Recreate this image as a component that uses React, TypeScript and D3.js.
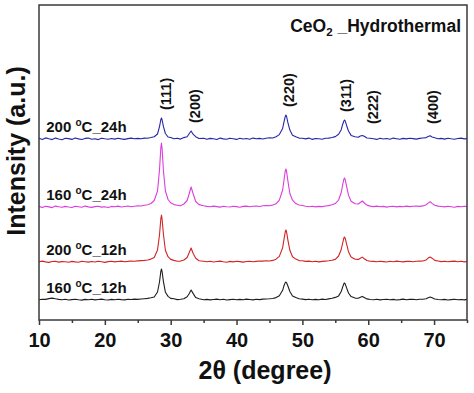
import { useEffect, useRef } from 'react'
import * as d3 from 'd3'

const W = 474
const H = 393
const MARGIN = { top: 5, right: 7, bottom: 73, left: 39 }
const FONT = "Arial, 'Liberation Sans', sans-serif"

// 2-theta sampling grid (degrees)
const twoTheta = [
  10, 10.5, 11, 11.5, 12, 12.5, 13, 13.5, 14, 14.5, 15, 15.5, 16, 16.5, 17, 17.5, 18, 18.5, 19, 19.5,
  20, 20.5, 21, 21.5, 22, 22.5, 23, 23.5, 24, 24.5, 25, 25.5, 26, 26.5, 27,
  27.5, 28, 28.3, 28.5, 28.6, 28.7, 28.9, 29.2, 29.6, 30, 30.5, 31, 31.5, 32, 32.5, 32.8, 33.1, 33.4, 33.8, 34.3, 35,
  35.5, 36, 36.5, 37, 37.5, 38, 38.5, 39, 39.5, 40, 40.5, 41, 41.5, 42, 42.5, 43, 43.5, 44, 44.5, 45, 45.5, 46,
  46.5, 47, 47.2, 47.4, 47.5, 47.6, 47.8, 48.1, 48.5, 49, 49.5,
  50, 50.5, 51, 51.5, 52, 52.5, 53, 53.5, 54, 54.5, 55,
  55.5, 55.9, 56.1, 56.3, 56.4, 56.5, 56.7, 57, 57.4, 58, 58.5, 58.8, 59.1, 59.4, 59.8, 60.3,
  60.8, 61.3, 61.8, 62.3, 62.8, 63.3, 63.8, 64.3, 64.8, 65.3, 65.8, 66.3, 66.8, 67.3, 67.8, 68.3,
  68.8, 69.1, 69.4, 69.7, 70.1, 70.6,
  71.1, 71.6, 72.1, 72.6, 73.1, 73.6, 74.1, 74.6, 75,
]

// intensities (a.u.), one per 2-theta point
const i160_12h = [
  10.2, 10.8, 10.6, 11.4, 11.9, 11.2, 10.6, 10.2, 10.7, 10.0, 10.4, 10.8, 10.3, 9.9, 10.6, 10.2, 10.7, 10.1, 10.5, 10.9,
  10.3, 10.0, 10.6, 10.2, 10.8, 10.4, 10.1, 10.7, 10.5, 10.9, 10.6, 11.0, 11.3, 11.6, 12.2,
  13, 18, 28, 38.5, 41, 38.2, 28.3, 17.7, 13.6, 11.6, 11.2, 10.4, 10.8, 11.3, 13.3, 16.2, 20, 16.6, 12.4, 11.2, 10.3,
  10.6, 10.1, 10.5, 10.9, 10.3, 10.7, 10.0, 10.4, 10.8, 10.2, 10.6, 10.3, 10.9, 10.5, 10.1, 10.7, 10.4, 10.9, 11.0, 11.2, 11.5, 12.4,
  14.3, 19.7, 24.2, 27.4, 28, 27.2, 24.0, 18.5, 14.0, 12.4, 11.2,
  10.9, 10.4, 10.8, 10.2, 10.6, 10.3, 10.9, 10.5, 11.1, 11.7, 12.6,
  14.1, 18.5, 22.6, 26.3, 27, 26.1, 22.4, 17, 13.4, 11.9, 11.8, 12.7, 13.6, 12.5, 11.1, 10.5,
  10.3, 10.7, 10.1, 10.5, 10.8, 10.2, 10.6, 10.0, 10.4, 10.9, 10.3, 10.6, 10.8, 10.2, 10.7, 10.8,
  11.2, 12.2, 13, 12.2, 11.0, 10.5,
  10.2, 10.6, 10.0, 10.4, 10.8, 10.3, 10.5, 10.1, 10.6,
]
const i200_12h = [
  10.3, 10.9, 10.1, 9.6, 10.5, 10.8, 9.9, 10.4, 10.2, 9.7, 10.6, 10.1, 9.8, 10.7, 10.3, 9.9, 10.5, 10.0, 10.8, 10.2,
  9.6, 10.4, 10.7, 10.1, 10.5, 10.9, 10.3, 10.6, 11.0, 10.7, 11.1, 11.4, 11.6, 12.0, 12.9,
  14.5, 22, 37, 53, 57, 52.5, 37.5, 21.5, 15.3, 12.6, 11.6, 10.8, 10.9, 12.0, 14.5, 19.2, 24, 18.8, 13.7, 11.2, 10.8,
  10.2, 10.7, 10.0, 10.5, 10.9, 10.3, 9.8, 10.6, 10.1, 10.7, 10.4, 9.9, 10.5, 10.8, 10.2, 10.6, 11.0, 10.9, 11.3, 11.0, 11.6, 12.8,
  15.6, 24.2, 32.4, 40.2, 42, 40.0, 31.8, 21.7, 15.2, 12.9, 11.4,
  11.2, 10.6, 10.9, 10.3, 10.7, 10.1, 10.6, 10.9, 11.2, 11.8, 12.6,
  16, 22.5, 28.5, 34, 35, 33.8, 28.3, 20.3, 15, 12.7, 12.6, 13.7, 14.9, 13.3, 11.5, 10.7,
  10.6, 10.2, 10.8, 10.4, 10.0, 10.7, 10.3, 10.9, 10.5, 10.1, 10.6, 10.8, 10.3, 10.7, 10.9, 11.0,
  12.1, 13.9, 15.0, 13.8, 11.6, 11.0,
  10.4, 10.8, 10.2, 10.6, 10.9, 10.3, 10.7, 10.1, 10.5,
]
const i160_24h = [
  10.5, 9.6, 10.8, 10.1, 9.4, 10.9, 10.2, 9.7, 10.6, 10.0, 9.5, 10.7, 10.3, 9.8, 10.9, 10.1, 9.6, 10.4, 10.8, 9.9,
  10.3, 9.5, 10.6, 10.2, 10.9, 10.0, 10.5, 11.0, 10.3, 10.8, 11.2, 11.0, 11.8, 12.2, 13.5,
  16.5, 26, 47, 69, 74, 68, 46, 26, 17.5, 14.2, 12.4, 11.8, 11.2, 13, 16.5, 23, 30, 23.5, 15.5, 12.4, 11.2,
  10.6, 10.2, 10.9, 10.4, 9.9, 10.7, 10.3, 10.0, 10.8, 10.4, 9.8, 10.6, 10.9, 10.2, 10.7, 11.0, 10.5, 11.2, 11.4, 11.3, 11.9, 13.2,
  16.8, 27, 36.5, 46, 48, 45.5, 36, 23.5, 16.8, 13.4, 12.0,
  11.5, 10.8, 10.3, 10.7, 10.1, 10.6, 10.4, 11.0, 11.4, 12.2, 13.4,
  17.0, 24.5, 31.5, 37.8, 39, 37.5, 31.2, 21.9, 15.8, 13.2, 13.0, 14.5, 16, 14, 11.9, 10.9,
  10.4, 10.9, 10.2, 10.6, 9.9, 10.5, 10.8, 10.1, 10.6, 10.3, 10.9, 10.4, 10.7, 11.0, 10.6, 11.1,
  12.3, 13.9, 15.2, 13.6, 11.8, 10.9,
  10.5, 10.1, 10.7, 10.3, 9.8, 10.6, 10.2, 10.8, 10.4,
]
const i200_24h = [
  10.8, 9.5, 11.1, 10.2, 9.4, 10.9, 10.0, 9.3, 10.7, 10.4, 9.6, 11.0, 10.1, 9.5, 10.6, 10.9, 9.8, 10.3, 9.4, 10.8,
  10.2, 9.7, 10.5, 9.9, 10.8, 10.1, 9.6, 10.4, 10.9, 10.2, 10.6, 10.3, 10.9, 10.8, 11.5,
  12.3, 15.0, 22.4, 29.2, 31, 29.0, 22.3, 15.5, 12.0, 11.5, 10.2, 10.8, 9.9, 11.4, 12.3, 15.3, 18, 14.8, 12.3, 10.5, 10.7,
  9.8, 10.6, 10.2, 9.5, 10.9, 10.1, 9.7, 10.8, 10.3, 9.6, 10.7, 10.0, 10.5, 9.7, 10.9, 10.2, 10.6, 10.0, 10.8, 11.2, 11.0, 12.3,
  14.4, 20.5, 26.8, 32.6, 34, 32.5, 26.3, 18.9, 13.8, 12.3, 10.9,
  10.7, 10.1, 10.9, 9.6, 10.5, 10.2, 9.8, 10.7, 10.9, 11.5, 12.4,
  14.8, 19.3, 24.3, 28.0, 29, 28.1, 23.8, 18.0, 13.6, 12.3, 11.7, 13.0, 13.5, 12.8, 11.0, 10.8,
  10.2, 9.6, 10.7, 10.0, 10.5, 9.8, 10.9, 10.3, 9.7, 10.6, 10.1, 10.8, 10.4, 9.9, 10.6, 11.0,
  11.4, 12.4, 13.2, 12.1, 11.2, 10.3,
  10.6, 9.9, 10.8, 10.2, 9.7, 10.5, 10.9, 10.1, 10.4,
]

// stacking order bottom -> top
const seriesNames = ['160 °C_12h', '200 °C_12h', '160 °C_24h', '200 °C_24h']
const seriesData = [i160_12h, i200_12h, i160_24h, i200_24h]
const seriesOffsets = [10, 48, 103, 171]
const seriesColors = ['#1e1e1e', '#d22424', '#dc3ddc', '#2626a6']

// reflections (hkl), peak centres and where their labels sit
const hklLabels = ['(111)', '(200)', '(220)', '(311)', '(222)', '(400)']
const hklPeaks = [28.6, 33.1, 47.5, 56.4, 59.1, 69.4]
const hklLabelTheta = [29.3, 33.7, 48.0, 56.6, 60.7, 69.8]

const xTicks = [10, 20, 30, 40, 50, 60, 70]
const xMinorTicks = [15, 25, 35, 45, 55, 65, 75]
const seriesLabelTheta = 11.1

export default function App() {
  const svgRef = useRef<SVGSVGElement | null>(null)

  useEffect(() => {
    const svg = d3.select(svgRef.current)
    svg.selectAll('*').remove()

    const iW = W - MARGIN.left - MARGIN.right
    const iH = H - MARGIN.top - MARGIN.bottom

    const x = d3.scaleLinear().domain([10, 75]).range([0, iW])
    const y = d3.scaleLinear().domain([0, 315]).range([iH, 0])

    const g = svg.append('g').attr('transform', `translate(${MARGIN.left},${MARGIN.top})`)

    // patterns
    seriesData.forEach((vals, si) => {
      const n = Math.min(vals.length, twoTheta.length)
      const pts = d3.range(n).map(i => [twoTheta[i], vals[i] + seriesOffsets[si]] as [number, number])
      const line = d3.line<[number, number]>()
        .x(d => x(d[0]))
        .y(d => y(d[1]))
      g.append('path')
        .datum(pts)
        .attr('fill', 'none')
        .attr('stroke', seriesColors[si])
        .attr('stroke-width', 1.1)
        .attr('stroke-linejoin', 'round')
        .attr('d', line)

      // series label just above its baseline
      const t = g.append('text')
        .attr('x', x(seriesLabelTheta))
        .attr('y', y(seriesOffsets[si] + 10) - 7)
        .attr('font-family', FONT)
        .attr('font-weight', 'bold')
        .attr('font-size', 15)
        .attr('fill', '#111')
      const [num, rest] = seriesNames[si].split(' °')
      t.append('tspan').text(num + ' ')
      t.append('tspan').attr('font-size', 10).attr('dy', -6).text('o')
      t.append('tspan').attr('dy', 6).text(rest)
    })

    // hkl labels above the top pattern
    const top = seriesData[3]
    const topOff = seriesOffsets[3]
    const bis = d3.bisector((d: number) => d).left
    hklLabels.forEach((lab, i) => {
      const idx = Math.min(bis(twoTheta, hklPeaks[i]), twoTheta.length - 1)
      const peakY = y(top[idx] + topOff) - 8
      const bottom = Math.min(peakY, y(topOff + 10) - 15)
      g.append('text')
        .attr('transform', `translate(${x(hklLabelTheta[i])},${bottom}) rotate(-90)`)
        .attr('dy', '0.35em')
        .attr('font-family', FONT)
        .attr('font-weight', 'bold')
        .attr('font-size', 14.5)
        .attr('fill', '#111')
        .text(lab)
    })

    // frame
    g.append('rect')
      .attr('width', iW).attr('height', iH)
      .attr('fill', 'none')
      .attr('stroke', '#3a3a3a')
      .attr('stroke-width', 1.5)

    // x axis
    g.append('g')
      .attr('transform', `translate(0,${iH})`)
      .call(d3.axisBottom(x).tickValues(xMinorTicks).tickSize(3).tickFormat(() => ''))
      .call(ax => ax.select('.domain').remove())
      .call(ax => ax.selectAll('line').attr('stroke', '#3a3a3a').attr('stroke-width', 1.5))

    g.append('g')
      .attr('transform', `translate(0,${iH})`)
      .call(d3.axisBottom(x).tickValues(xTicks).tickSize(5).tickPadding(8).tickFormat(d3.format('d')))
      .call(ax => ax.select('.domain').remove())
      .call(ax => ax.selectAll('line').attr('stroke', '#3a3a3a').attr('stroke-width', 1.5))
      .call(ax => ax.selectAll('text')
        .attr('font-size', 20)
        .attr('font-weight', 'bold')
        .attr('font-family', FONT)
        .attr('fill', '#111'))

    // titles
    svg.append('text')
      .attr('x', 265).attr('y', 379)
      .attr('text-anchor', 'middle')
      .attr('font-family', FONT)
      .attr('font-weight', 'bold')
      .attr('font-size', 25)
      .attr('fill', '#111')
      .text('2θ (degree)')

    svg.append('text')
      .attr('transform', 'translate(25,151) rotate(-90)')
      .attr('text-anchor', 'middle')
      .attr('font-family', FONT)
      .attr('font-weight', 'bold')
      .attr('font-size', 25)
      .attr('fill', '#111')
      .text('Intensity (a.u.)')

    const ttl = svg.append('text')
      .attr('x', 461).attr('y', 32)
      .attr('text-anchor', 'end')
      .attr('font-family', FONT)
      .attr('font-weight', 'bold')
      .attr('font-size', 17.5)
      .attr('fill', '#111')
    ttl.append('tspan').text('CeO')
    ttl.append('tspan').attr('font-size', 11.5).attr('dy', 4).text('2')
    ttl.append('tspan').attr('dy', -4).text(' _Hydrothermal')
  }, [])

  return (
    <div style={{ position: 'absolute', left: 0, top: 0, background: '#fff' }}>
      <svg ref={svgRef} width={W} height={H} style={{ display: 'block' }} />
    </div>
  )
}
